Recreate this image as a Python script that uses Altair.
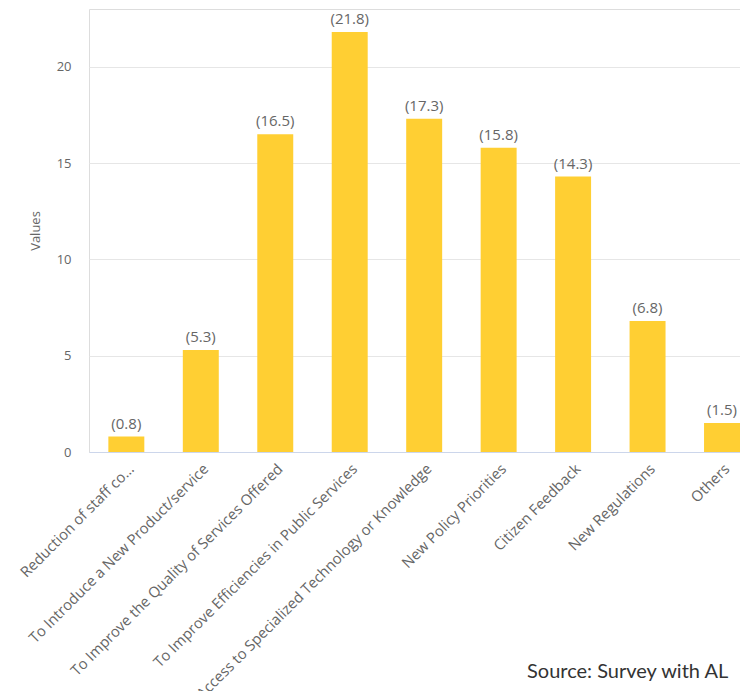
import altair as alt
import pandas as pd

categories = [
    "Reduction of staff co…",
    "To Introduce a New Product/service",
    "To Improve the Quality of Services Offered",
    "To Improve Efficiencies in Public Services",
    "Access to Specialized Technology or Knowledge",
    "New Policy Priorities",
    "Citizen Feedback",
    "New Regulations",
    "Others",
]
values = [0.8, 5.3, 16.5, 21.8, 17.3, 15.8, 14.3, 6.8, 1.5]
labels = ["(%.1f)" % v for v in values]
y_ticks = [0, 5, 10, 15, 20]
source_text = "Source: Survey with AL"

df = pd.DataFrame({"category": categories, "value": values, "label": labels})

FONT = "Open Sans"

x = alt.X(
    "category:N",
    sort=categories,
    title=None,
    scale=alt.Scale(paddingInner=0.517, paddingOuter=0.13, align=1),
    axis=alt.Axis(
        labelAngle=-45,
        labelFont=FONT,
        labelFontSize=14.8,
        labelColor="#666666",
        labelLimit=500,
        labelPadding=9,
        ticks=False,
        domain=True,
        domainColor="#ccd6eb",
        domainWidth=1,
        grid=False,
        zindex=1,
    ),
)
y = alt.Y(
    "value:Q",
    title="Values",
    scale=alt.Scale(domain=[0, 23], nice=False),
    axis=alt.Axis(
        values=y_ticks,
        labelFont=FONT,
        labelFontSize=13,
        labelColor="#666666",
        labelPadding=18,
        titleFont=FONT,
        titleFontSize=13,
        titleFontWeight="normal",
        titleColor="#666666",
        titlePadding=14,
        ticks=False,
        domain=False,
        domainColor="#ffffff",
        domainOpacity=0,
        gridColor="#e6e6e6",
        gridWidth=1,
    ),
)

base = alt.Chart(df).encode(x=x, y=y)
bars = base.mark_bar(color="#ffcf33")
text = base.mark_text(
    dy=-8, baseline="alphabetic", font=FONT, fontSize=15, color="#666666"
).encode(text="label:N")

source = alt.Chart(pd.DataFrame({"t": [source_text]})).mark_text(
    font="Lato", fontSize=20, color="#333333", align="left", baseline="alphabetic"
).encode(x=alt.value(438), y=alt.value(669), text="t:N")

chart = (
    alt.layer(bars, text, source)
    .properties(
        width=651,
        height=443,
        autosize=alt.AutoSizeParams(type="none"),
        padding={"top": 1, "left": 81, "right": 0, "bottom": 239},
    )
    .configure_view(stroke="transparent", strokeWidth=0, strokeOpacity=0)
    .configure_axis(domain=False)
    .configure_axisY(domain=False, domainOpacity=0)
    .configure(background="#ffffff")
)

chart.save("out.html", embed_options={"renderer": "svg", "actions": False})
